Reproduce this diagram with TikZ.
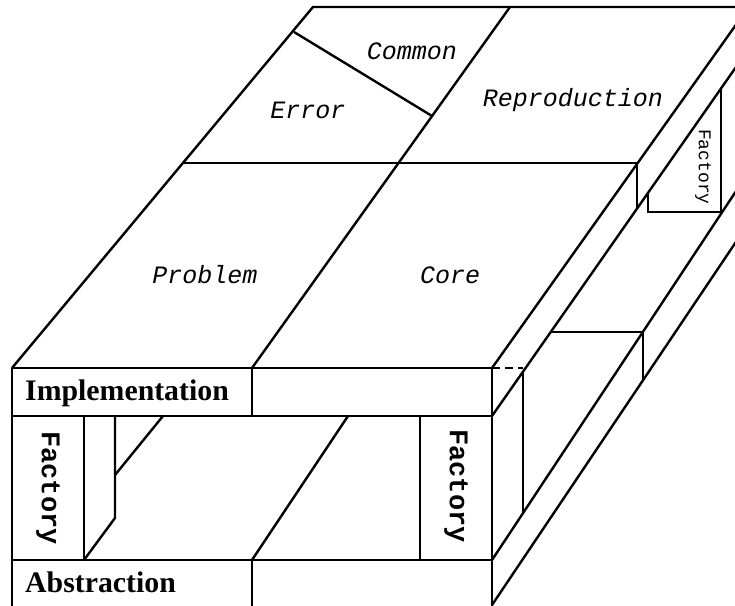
\documentclass[tikz,border=0pt]{standalone}
\usepackage{fontspec}
\setmainfont{Liberation Serif}
\setmonofont{Liberation Mono}
\usetikzlibrary{calc}

\tikzset{
  layer/.style={inner sep=0pt, anchor=base west, font=\bfseries\fontsize{29.8}{30}\selectfont},
  part/.style={inner sep=0pt, anchor=base, font=\ttfamily\itshape\fontsize{25}{26}\selectfont},
  factory/.style={inner sep=0pt, rotate=-90, font=\ttfamily\bfseries\fontsize{27}{28}\selectfont},
  hidden/.style={dash pattern=on 8pt off 5pt, line width=1.2pt}
}

\begin{document}
\begin{tikzpicture}[x=1pt, y=-1pt, line width=2.4pt, line join=miter]
    \useasboundingbox (0,0) rectangle (735,605);
    \clip (0,0) rectangle (735,605);

    \coordinate (front-tl) at (12,368);
    \coordinate (front-tr) at (492,368);
    \coordinate (impl-bl) at (12,416);
    \coordinate (impl-br) at (492,416);
    \coordinate (abs-tl) at (12,560);
    \coordinate (abs-tr) at (492,560);
    \coordinate (front-bl) at (12,610);
    \coordinate (front-br) at (492,610);
    \coordinate (top-bl) at (313,7);
    \coordinate (top-br) at (750,7);

    \draw (front-tl) -- (front-tr) -- (front-br);
    \draw (front-tl) -- (front-bl);
    \draw (impl-bl) -- (impl-br);
    \draw (abs-tl) -- (abs-tr);
    \draw (252,368) -- (252,416);
    \draw (252,560) -- (252,610);

    \draw (front-tl) -- (top-bl) -- (top-br);
    \draw (252,368) -- (510,7);
    \draw (183,163) coordinate (split-l) -- (637,163) coordinate (split-r);
    \draw (294,32) coordinate (err-l) -- (432,116) coordinate (err-r);

    \draw (front-tr) -- (750,5) coordinate (r1-end);
    \draw (impl-br) -- (750,47) coordinate (rb-end);
    \draw (abs-tr) -- (750,170) coordinate (rc-end);
    \draw (492,605) -- (750,221) coordinate (rd-end);

    \draw (split-r) -- (637,209);
    \draw (648,193) -- (648,212) -- (721,212) -- (721,88);
    \draw (551,332) -- (643,332) -- (643,380);
    \draw (523,372) -- (523,513);
    \draw[hidden] (front-tr) -- (523,368);

    \draw (84,416) -- (84,560);
    \draw (115,416) -- (115,518) -- (84,560);
    \draw (115,475) -- (163,416);
    \draw (252,560) -- (348,416);
    \draw (420,416) -- (420,560);

    \node[layer] (impl-label) at (24,400) {Implementation};
    \node[layer] (abs-label) at (24,592) {Abstraction};

    \node[part] (problem-label) at (205,283) {Problem};
    \node[part] (core-label) at (450,283) {Core};
    \node[part] (error-label) at (308,118) {Error};
    \node[part] (common-label) at (412,59) {Common};
    \node[part] (repro-label) at (573,106) {Reproduction};

    \node[factory] (factory-left) at (48,488) {Factory};
    \node[factory] (factory-right) at (456,486) {Factory};
    \node[factory, font=\ttfamily\fontsize{18}{19}\selectfont] (factory-back) at (703,167) {Factory};
\end{tikzpicture}
\end{document}
